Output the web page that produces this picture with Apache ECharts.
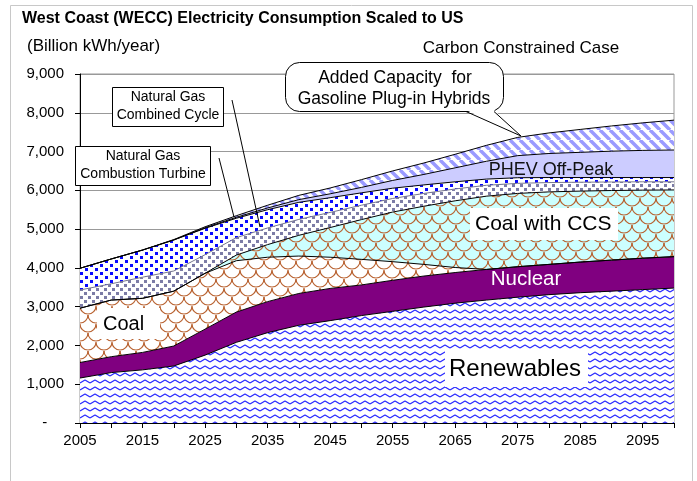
<!DOCTYPE html>
<html>
<head>
<meta charset="utf-8">
<script src="https://cdn.jsdelivr.net/npm/echarts@6/dist/echarts.min.js"></script>
<style>
  html, body { margin: 0; padding: 0; background: #fff; }
  #chart { width: 697px; height: 481px; }
</style>
</head>
<body>
<div id="chart"></div>
<script>
// x categories, every 5 years (labels shown every 10)
const years = ['2005', '2010', '2015', '2020', '2025', '2030', '2035', '2040', '2045', '2050',
  '2055', '2060', '2065', '2070', '2075', '2080', '2085', '2090', '2095', '2100']

// Billion kWh/year, stacked bottom -> top
const renewables  = [1160, 1300, 1370, 1470, 1750, 2080, 2330, 2520, 2640, 2770, 2880, 2990, 3090, 3170, 3245, 3310, 3360, 3400, 3440, 3480]
const nuclear     = [400, 410, 450, 515, 670, 780, 800, 820, 830, 790, 800, 800, 790, 790, 785, 780, 790, 800, 810, 810]
const coal        = [1400, 1460, 1395, 1415, 1440, 1325, 1145, 965, 805, 660, 480, 300, 130, 0, 0, 0, 0, 0, 0, 0]
const coalCCS     = [0, 0, 0, 0, 0, 145, 325, 535, 765, 1025, 1280, 1500, 1720, 1890, 1890, 1870, 1830, 1795, 1755, 1720]
const gasCombined = [470, 420, 545, 520, 480, 450, 430, 410, 390, 370, 350, 330, 305, 280, 260, 240, 230, 220, 215, 210]
const gasTurbine  = [560, 640, 700, 800, 680, 500, 470, 440, 380, 320, 265, 220, 185, 160, 145, 130, 120, 115, 110, 110]
const phevOffPeak = [0, 0, 0, 0, 15, 25, 45, 70, 100, 140, 200, 270, 360, 460, 570, 620, 650, 680, 700, 710]
const phevAdded   = [0, 0, 0, 10, 25, 40, 70, 110, 150, 200, 245, 295, 350, 410, 470, 530, 590, 650, 710, 770]

const FONT = '"Liberation Sans", Arial, sans-serif'

// little canvas tiles for the Excel-style fill patterns
function pattern(w, h, bg, draw) {
  const c = document.createElement('canvas')
  c.width = w
  c.height = h
  const g = c.getContext('2d')
  g.fillStyle = bg
  g.fillRect(0, 0, w, h)
  draw(g)
  return { image: c, repeat: 'repeat' }
}

const wave = pattern(10, 7, '#ffffff', function (g) {
  g.strokeStyle = '#2a2aff'
  g.lineWidth = 1.2
  g.lineJoin = 'round'
  g.beginPath()
  g.moveTo(0, 5); g.lineTo(5, 2); g.lineTo(10, 5)
  g.stroke()
})

function scales(bg) {
  return pattern(16, 18, bg, function (g) {
    g.strokeStyle = '#b8612f'
    g.lineWidth = 1.2
    g.beginPath(); g.arc(8, 0, 8, 0, Math.PI); g.stroke()
    g.beginPath(); g.arc(0, 9, 8, 0, Math.PI); g.stroke()
    g.beginPath(); g.arc(16, 9, 8, 0, Math.PI); g.stroke()
    g.beginPath(); g.arc(8, 18, 8, 0, Math.PI); g.stroke()
  })
}

function dots(w, h, size, color) {
  return pattern(w, h, '#ffffff', function (g) {
    g.fillStyle = color
    g.fillRect(0, 0, size, size)
    g.fillRect(w / 2, h / 2, size, size)
  })
}
const grayDots = dots(8, 8, 3, '#7c7ca6')
const blueDots = dots(10, 8, 3, '#0a0aff')

const stripes = pattern(10, 10, '#ffffff', function (g) {
  g.strokeStyle = '#9a9aff'
  g.lineWidth = 3.5
  g.beginPath()
  ;[-10, 0, 10].forEach(function (k) { g.moveTo(k, 0); g.lineTo(k + 10, 10) })
  g.stroke()
})

const layers = [
  { name: 'Renewables', data: renewables, fill: wave, edge: '#000' },
  { name: 'Nuclear', data: nuclear, fill: '#800080', edge: '#000' },
  { name: 'Coal', data: coal, fill: scales('#ffffff'), edge: '#000' },
  { name: 'Coal with CCS', data: coalCCS, fill: scales('#ccffff'), edge: '#000' },
  { name: 'Natural Gas Combined Cycle', data: gasCombined, fill: grayDots, edge: '#77778f' },
  { name: 'Natural Gas Combustion Turbine', data: gasTurbine, fill: blueDots, edge: '#000' },
  { name: 'PHEV Off-Peak', data: phevOffPeak, fill: '#ccccff', edge: '#000' },
  { name: 'Added Capacity for Gasoline Plug-in Hybrids', data: phevAdded, fill: stripes, edge: '#000' }
]

const series = []
layers.forEach(function (l) {
  series.push({
    name: l.name, type: 'line', stack: 'fill', data: l.data,
    symbol: 'none', silent: true, z: 2,
    lineStyle: { width: 0 },
    areaStyle: { color: l.fill, opacity: 1 }
  })
})
// outlines drawn on top so the next area does not cover half of them
layers.forEach(function (l) {
  series.push({
    name: l.name + ' edge', type: 'line', stack: 'edge', data: l.data,
    symbol: 'none', silent: true, z: 3,
    lineStyle: { color: l.edge, width: 1 }
  })
})

function text(x, y, str, size, opts) {
  opts = opts || {}
  return {
    type: 'text', z: 20, x: x, y: y,
    style: {
      text: str, fill: opts.color || '#000',
      font: (opts.bold ? 'bold ' : '') + size + 'px ' + FONT,
      align: opts.align || 'center', verticalAlign: 'middle',
      lineHeight: opts.lineHeight
    }
  }
}
function box(x, y, w, h, r) {
  return {
    type: 'rect', z: 19,
    shape: { x: x + 0.5, y: y + 0.5, width: w, height: h, r: r || 0 },
    style: { fill: '#fff', stroke: '#000', lineWidth: 1 }
  }
}
function whiteBox(x, y, w, h) {
  return { type: 'rect', z: 19, shape: { x: x, y: y, width: w, height: h }, style: { fill: '#fff' } }
}
function line(points) {
  return { type: 'polyline', z: 19, shape: { points: points }, style: { stroke: '#000', lineWidth: 1, fill: null } }
}

const chart = echarts.init(document.getElementById('chart'))
chart.setOption({
  animation: false,
  backgroundColor: '#fff',
  grid: { left: 80, right: 23, top: 74, bottom: 58, show: true, borderColor: '#999', borderWidth: 1 },
  xAxis: {
    type: 'category', data: years, boundaryGap: false,
    axisLine: { lineStyle: { color: '#000', width: 1 } },
    axisTick: { interval: 0, length: 5, lineStyle: { color: '#000' } },
    axisLabel: { interval: 1, color: '#000', fontSize: 15, fontFamily: FONT, margin: 10 },
    splitLine: { show: false }
  },
  yAxis: {
    type: 'value', min: 0, max: 9000, interval: 1000,
    axisLine: { show: true, lineStyle: { color: '#000', width: 1 } },
    axisTick: { show: true, length: 5, lineStyle: { color: '#000' } },
    axisLabel: {
      color: '#000', fontSize: 15, fontFamily: FONT, margin: 16,
      formatter: function (v) { return v === 0 ? '-    ' : v.toLocaleString('en-US') }
    },
    splitLine: { lineStyle: { color: '#999', width: 1 } }
  },
  series: series,
  graphic: [
    { type: 'rect', z: 1, shape: { x: 10.5, y: 5.5, width: 682, height: 490 }, style: { fill: null, stroke: '#c8c8c8', lineWidth: 1 } },
    text(22, 19, 'West Coast (WECC) Electricity Consumption Scaled to US', 16, { bold: true, align: 'left' }),
    text(27, 46, '(Billion kWh/year)', 17, { align: 'left' }),
    text(521, 48, 'Carbon Constrained Case', 17),

    // callout for the added PHEV capacity
    box(285, 62, 218, 49, 14),
    { type: 'polygon', z: 19, shape: { points: [[466, 110], [521, 136], [494, 110]] }, style: { fill: '#fff' } },
    line([[466, 111.5], [521, 136], [494, 111.5]]),
    text(395, 78, 'Added Capacity  for', 17.5),
    text(394, 99, 'Gasoline Plug-in Hybrids', 17.5),

    box(112, 87, 111, 39),
    text(168, 106, 'Natural Gas\nCombined Cycle', 14, { lineHeight: 18 }),
    line([[232, 100], [260, 227]]),
    box(75, 146, 135, 39),
    text(143, 165.5, 'Natural Gas\nCombustion Turbine', 14, { lineHeight: 18 }),
    line([[219, 158], [234, 217]]),

    whiteBox(97, 308, 63, 31),
    text(103, 324, 'Coal', 20, { align: 'left' }),
    whiteBox(470, 208, 148, 32),
    text(475, 224, 'Coal with CCS', 21, { align: 'left' }),
    text(526, 279, 'Nuclear', 20.5, { color: '#fff' }),
    text(551, 170, 'PHEV Off-Peak', 18, { color: '#111' }),
    whiteBox(445, 350, 143, 37),
    text(515, 369, 'Renewables', 24)
  ]
})
</script>
</body>
</html>
